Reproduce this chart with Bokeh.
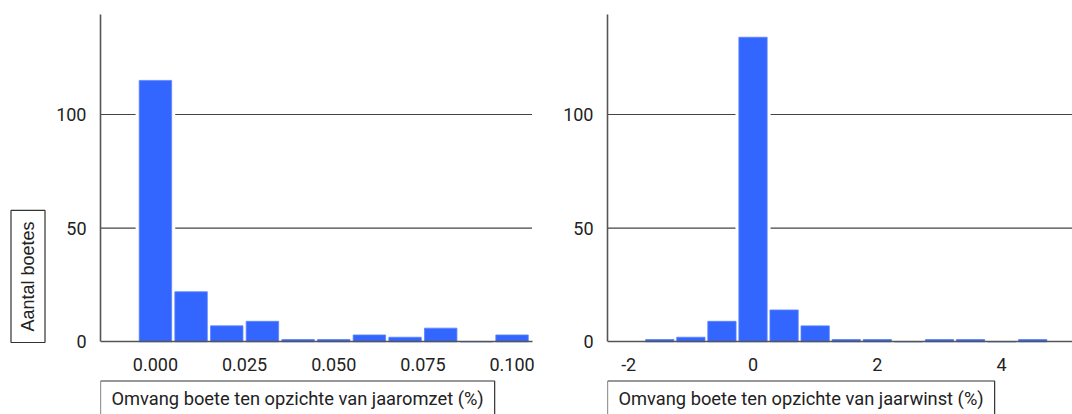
from bokeh.plotting import figure
from bokeh.layouts import row
from bokeh.models import Range1d, FixedTicker, Title, Label
from bokeh.embed import file_html
from bokeh.resources import INLINE

# ---- data ----
omzet_bins = [0.00, 0.01, 0.02, 0.03, 0.04, 0.05, 0.06, 0.07, 0.08, 0.09, 0.10]
omzet_counts = [115, 22, 7, 9, 1, 1, 3, 2, 6, 0, 3]
omzet_bin_width = 0.01
omzet_ticks = [0.0, 0.025, 0.05, 0.075, 0.1]
omzet_tick_labels = ["0.000", "0.025", "0.050", "0.075", "0.100"]

winst_bins = [-1.5, -1.0, -0.5, 0.0, 0.5, 1.0, 1.5, 2.0, 2.5, 3.0, 3.5, 4.0, 4.5]
winst_counts = [1, 2, 9, 134, 14, 7, 1, 1, 0, 1, 1, 0, 1]
winst_bin_width = 0.5
winst_ticks = [-2, 0, 2, 4]
winst_tick_labels = ["-2", "0", "2", "4"]

y_ticks = [0, 50, 100]
grid_ticks = [50, 100]
y_max = 144.0

y_title = "Aantal boetes"
x_title_left = "Omvang boete ten opzichte van jaaromzet (%)"
x_title_right = "Omvang boete ten opzichte van jaarwinst (%)"

BLUE = "#3366ff"
FONT = "Roboto"
H = 414


def make_panel(bins, counts, bw, xr, x_axis_end, ticks, tick_labels, width, mbl, mbr,
               xtitle, with_ytitle):
    p = figure(width=width, height=H, output_backend="svg", toolbar_location=None,
               x_range=Range1d(*xr), y_range=Range1d(-32.0, y_max),
               min_border_left=mbl, min_border_right=mbr,
               min_border_top=14, min_border_bottom=0)
    p.outline_line_color = None
    p.background_fill_color = "white"
    p.border_fill_color = "white"
    p.xgrid.visible = False
    p.ygrid.visible = False

    # horizontal grid lines at the y ticks, ending where the x axis ends
    p.segment(x0=[xr[0]] * len(grid_ticks), x1=[x_axis_end] * len(grid_ticks),
              y0=grid_ticks, y1=grid_ticks, line_color="#444444", line_width=1.2)

    # white halo behind bars (cuts the grid lines)
    hb = [b for b, c in zip(bins, counts) if c > 0]
    hc = [c for c in counts if c > 0]
    p.vbar(x=hb, top=hc, width=bw, bottom=0, fill_color="white",
           line_color="white", line_width=4)
    p.vbar(x=bins, top=counts, width=bw * 0.91, bottom=0, fill_color=BLUE,
           line_color="#5b84ff", line_width=0.8)

    for ax in (p.xaxis[0], p.yaxis[0]):
        ax.axis_line_color = "#555555"
        ax.axis_line_width = 1.6
        ax.major_tick_line_color = None
        ax.minor_tick_line_color = None
        ax.major_tick_out = 0
        ax.major_tick_in = 0
        ax.major_label_text_font = FONT
        ax.major_label_text_font_size = "18px"
        ax.major_label_text_color = "#222222"
    p.xaxis.ticker = FixedTicker(ticks=ticks)
    p.xaxis.major_label_overrides = {t: l for t, l in zip(ticks, tick_labels)}
    p.xaxis.major_label_standoff = 16
    p.xaxis.fixed_location = 0
    p.xaxis.bounds = (xr[0], x_axis_end)
    p.yaxis.ticker = FixedTicker(ticks=y_ticks)
    p.yaxis.major_label_standoff = 14
    p.yaxis.bounds = (0, y_max)

    p.add_layout(Label(x=0, y=16, x_units="screen", y_units="screen", text=xtitle,
                       text_font=FONT, text_font_size="18.3px", text_color="#222222",
                       text_align="left", text_baseline="middle",
                       border_line_color="#333333", border_line_width=1.2,
                       background_fill_color="white", padding=(11, 7)))
    if with_ytitle:
        p.add_layout(Title(text=y_title, text_font="Liberation Sans", text_font_size="18px",
                           text_font_style="normal", text_color="#222222",
                           border_line_color="#333333", border_line_width=1.2,
                           background_fill_color="white", padding=(11, 7),
                           align="left", offset=72, standoff=7,
                           vertical_align="middle"), "left")
    return p


left = make_panel(omzet_bins, omzet_counts, omzet_bin_width, (-0.0154, 0.1091), 0.1056,
                  omzet_ticks, omzet_tick_labels, 544, 100, 0, x_title_left, True)
right = make_panel(winst_bins, winst_counts, winst_bin_width, (-2.341, 5.14), 5.14,
                   winst_ticks, winst_tick_labels, 528, 63, 0, x_title_right, False)

layout = row(left, right)
open("out.html", "w").write(file_html(layout, INLINE))
